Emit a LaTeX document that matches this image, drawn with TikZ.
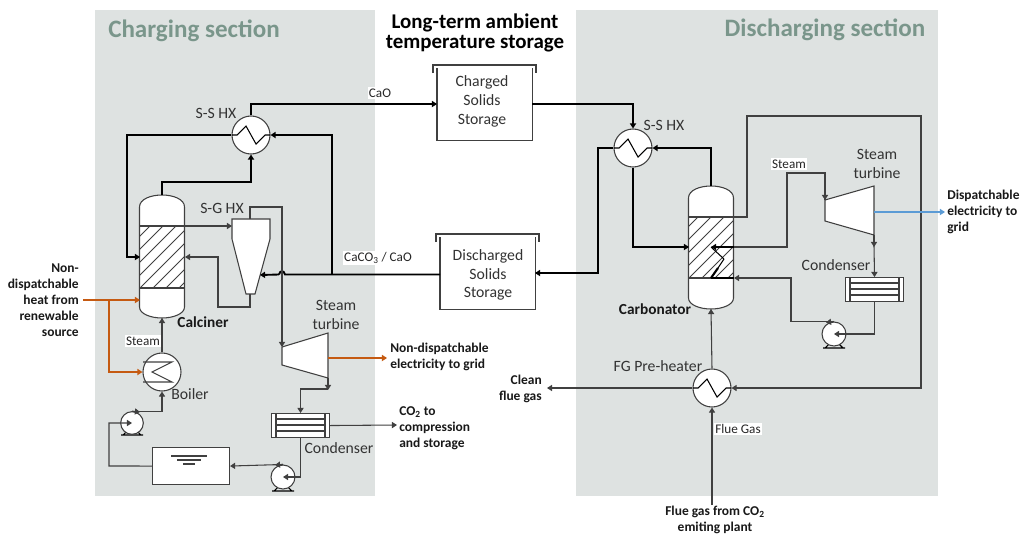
\documentclass[tikz,border=0pt]{standalone}
\usepackage{fontspec}
\setmainfont{Carlito}
\usetikzlibrary{arrows.meta}
\definecolor{panel}{HTML}{DEE2E1}
\definecolor{sect}{HTML}{7A968B}
\definecolor{ln}{HTML}{404040}
\definecolor{heat}{HTML}{C55A11}
\definecolor{elec}{HTML}{5B9BD5}
\tikzset{
  x=0.75pt,y=-0.75pt,
  tip/.style={-{Triangle[length=3.8pt,width=4.6pt]}},
  thin line/.style={draw=ln,line width=0.8pt},
  thick line/.style={draw=black,line width=1.4pt},
  heat line/.style={draw=heat,line width=1.6pt},
  elec line/.style={draw=elec,line width=2pt},
  equip/.style={draw=ln,line width=0.8pt,fill=white},
  hxc/.style={circle,equip,inner sep=0pt,minimum size=28.5pt},
  pumpc/.style={circle,equip,inner sep=0pt,minimum size=17pt},
  lbl/.style={inner sep=0pt,font=\fontsize{11.8pt}{14pt}\selectfont,text=black!80,align=center},
  small lbl/.style={inner sep=1pt,fill=white,font=\fontsize{9.9pt}{11pt}\selectfont,text=black!85},
  bold lbl/.style={inner sep=0pt,font=\fontsize{10.1pt}{12pt}\selectfont\bfseries,text=black!90},
  big bold/.style={inner sep=0pt,font=\fontsize{11.5pt}{12pt}\selectfont\bfseries,text=black!90},
  title lbl/.style={inner sep=0pt,font=\fontsize{15.7pt}{14.5pt}\selectfont\bfseries,align=center},
  sect lbl/.style={inner sep=0pt,font=\fontsize{18.8pt}{20pt}\selectfont\bfseries,text=sect},
}
% vessel: name, x-centre, y top, y hatch top, y hatch bottom, y bottom
\newcommand{\vesselshape}[6]{%
  \filldraw[equip] ({#2-22.5},{#3+12}) .. controls ({#2-22.5},{#3+4}) and ({#2-11},#3) .. (#2,#3)
    .. controls ({#2+11},#3) and ({#2+22.5},{#3+4}) .. ({#2+22.5},{#3+12})
    -- ({#2+22.5},{#6-11}) .. controls ({#2+22.5},{#6-4}) and ({#2+11},#6) .. (#2,#6)
    .. controls ({#2-11},#6) and ({#2-22.5},{#6-4}) .. ({#2-22.5},{#6-11}) -- cycle;
  \begin{scope}
    \clip ({#2-22.5},#4) rectangle ({#2+22.5},#5);
    \foreach \k in {-78,-65,...,78}
      \draw[draw=ln,line width=0.7pt] ({#2+\k-40},{#5+5}) -- ({#2+\k+40},{#5-75});
  \end{scope}
  \draw[draw=ln,line width=0.8pt] ({#2-22.5},#4) rectangle ({#2+22.5},#5);
  \coordinate (#1-top) at (#2,#3);
  \coordinate (#1-bot) at (#2,#6);
}
% heat exchanger zigzag inside a circle node
\newcommand{\hxcoil}[3]{%
  \draw[draw=black,line width=0.8pt] ({#2-19},#3) -- ({#2-14},#3) -- ({#2-5},{#3-9}) -- ({#2+5},{#3+9}) -- ({#2+14},#3) -- ({#2+19},#3);
}
\newcommand{\pumpbase}[3]{%
  \draw[draw=black,line width=0.8pt] ({#1-11},{#2+#3}) -- ({#1+11},{#2+#3})
    ({#1-9},{#2+#3}) -- ({#1-5},{#2+#3-4}) ({#1+9},{#2+#3}) -- ({#1+5},{#2+#3-4});
}
% condenser: name, left, top
\newcommand{\condenser}[3]{%
  \node[draw=ln,line width=0.8pt,fill=white,inner sep=0pt,minimum width=43.5pt,minimum height=18pt,anchor=north west] (#1) at (#2,#3) {};
  \draw[draw=ln,line width=0.8pt] ({#2+5},#3) -- ({#2+5},{#3+24}) ({#2+54},#3) -- ({#2+54},{#3+24})
    ({#2+5},{#3+6}) -- ({#2+54},{#3+6}) ({#2+5},{#3+12}) -- ({#2+54},{#3+12}) ({#2+5},{#3+18}) -- ({#2+54},{#3+18});
}
\newcommand{\turbine}[6]{%
  \filldraw[equip] (#2,#3) -- (#5,#6) -- (#5,\tbr) -- (#2,#4) -- cycle;
  \coordinate (#1-in) at (#2,#3);
  \coordinate (#1-out) at (#5,\tbr);
}
\begin{document}
\begin{tikzpicture}
\useasboundingbox (0,0) rectangle (1021,533);
\fill[white] (0,0) rectangle (1021,533);
\fill[panel] (95,10) rectangle (375,496);
\fill[panel] (576,10) rectangle (938,496);

% ---------- equipment
\vesselshape{calc}{162}{195}{226}{288}{318}
\vesselshape{carb}{711}{186}{217}{278}{309}
\node[hxc] (ssL) at (251,135) {}; \hxcoil{ssL}{251}{135}
\node[hxc] (ssR) at (633,148) {}; \hxcoil{ssR}{633}{148}
\node[hxc] (fg) at (712,388) {}; \hxcoil{fg}{712}{388}
\node[hxc] (boil) at (162,372) {};
\draw[draw=ln,line width=0.8pt] (143,362) -- (172,362) -- (152,372) -- (172,382) -- (143,382);
% cyclone
\filldraw[equip] (232,219) -- (270,219) -- (270,239) -- (255,294) -- (246,294) -- (232,239) -- cycle;
\coordinate (cycl-in) at (232,226);
\coordinate (cycl-top) at (250,219);
\coordinate (cycl-bot) at (250,294);
\coordinate (cycl-side) at (260,275);
% turbines
\def\tbr{378}\turbine{tL}{282}{347}{365}{328}{333}
\def\tbr{235}\turbine{tR}{825}{200}{221}{874}{186}
% pumps
\pumpbase{132}{423}{12}\node[pumpc] (p1) at (132,423) {};
\pumpbase{283}{477}{14}\node[pumpc,minimum size=18pt] (p2) at (283,477) {};
\pumpbase{834}{334}{14}\node[pumpc,minimum size=18pt] (p3) at (834,334) {};
% tank
\node[draw=ln,line width=0.8pt,fill=white,inner sep=0pt,minimum width=57.75pt,minimum height=27.75pt,anchor=north west] (tank) at (152,447) {};
\draw[draw=ln,line width=0.8pt] (171,456) -- (207,456) (177,460) -- (201,460) (183,464) -- (195,464);
% condensers
\condenser{cL}{271}{413}
\condenser{cR}{845}{277}
% storages
\node[inner sep=0pt,minimum width=71.25pt,minimum height=54pt,anchor=north west,lbl] (chg) at (437,68) {};
\draw[draw=ln,line width=1pt] (chg.north west) -- (chg.south west) -- (chg.south east) -- (chg.north east);
\draw[draw=ln,line width=1pt] (433,73) -- (433,65) -- (536,65) -- (536,73);
\node[inner sep=0pt,minimum width=71.25pt,minimum height=54pt,anchor=north west,lbl] (dis) at (440,237) {};
\draw[draw=ln,line width=1pt] (dis.north west) -- (dis.south west) -- (dis.south east) -- (dis.north east);
\draw[draw=ln,line width=1pt] (436,242) -- (436,234) -- (539,234) -- (539,242);

% ---------- junction coordinates
\coordinate (calc-hiL) at (140,257);
\coordinate (calc-hiR) at (185,257);
\coordinate (calc-hatchR) at (185,226);
\coordinate (carb-hL) at (689,247);
\coordinate (carb-hR) at (734,217);
\coordinate (coil-in) at (734,247);
\coordinate (coil-a) at (711,247);
\coordinate (coil-b) at (724,259);
\coordinate (coil-c) at (711,278);
\coordinate (coil-out) at (734,278);
\coordinate (bump-r) at (285,274.5);
\coordinate (bump-l) at (279,274.5);
\coordinate (chg-in) at (437,104);
\coordinate (chg-out) at (532,104);
\coordinate (dis-in) at (535,273);
\coordinate (dis-out) at (440,274.5);

% ---------- thick solids lines
\draw[thick line,tip] (ssL.north) |- (chg-in);
\draw[thick line,tip] (chg-out) -| (ssR.north);
\draw[thick line,tip] (ssL.west) -- (127,135) |- (calc-hiL);
\draw[thick line,tip] (calc-top) |- (251,182) -- (ssL.south);
\draw[thick line,tip] (332,274.5) |- (ssL.east);
\draw[thick line] (dis-out) -- (bump-r) .. controls (284,270) and (280,270) .. (bump-l);
\draw[thick line,tip] (bump-l) -- (cycl-side);
\draw[thick line,tip] (ssR.west) -- (598,148) |- (dis-in);
\draw[thick line,tip] (ssR.south) |- (carb-hL);
\draw[thick line,tip] (carb-top) |- (ssR.east);

% ---------- thin process lines
\draw[thin line,tip] (calc-hatchR) -- (cycl-in);
\draw[thin line,tip] (cycl-bot) |- (218,307) |- (calc-hiR);
\draw[thin line,tip] (cycl-top) |- (282,207) -- (tL-in);
\draw[thin line,tip] (boil.north) -- (calc-bot);
\draw[thin line,tip] (p1.north) -| (boil.south);
\draw[thin line,tip] (p1.north) -- (140,412);
\draw[thin line,tip] (tank.west) -- (109,466) |- (p1.center);
\draw[thin line,tip] (p2.north) -- (tank.east);
\draw[thin line,tip] (p2.north) -- (275,465);
\draw[thin line,tip] (cL.south) |- (p2.center);
\draw[thin line,tip] (tL-out) -- (328,390);
\draw[thin line,tip] (328,389) -| (cL.north);
\coordinate (co2) at (397,425);
\draw[thin line,tip] (cL.east) -- (co2);
\draw[thin line,tip] (carb-hR) -- (747,217) |- (921,116) |- (fg.east);
\draw[thin line,tip] (fg.north) -- (carb-bot);
\coordinate (clean) at (547,388);
\draw[thin line,tip] (fg.west) -- (clean);
\coordinate (fluein) at (712,505);
\draw[thin line,tip] (fluein) -- (fg.south);
\draw[thin line] (coil-in) -- (787,247) |- (825,173) -- (tR-in);
\draw[thin line,tip] (825,173) -- (tR-in);
\draw[thin line,tip] (tR-out) -- (874,247);
\draw[thin line,tip] (874,246) -- (cR.north);
\draw[thin line,tip] (cR.south) |- (p3.center);
\draw[thin line,tip] (p3.north) -| (791,278) -- (coil-out);
\draw[thin line,tip] (p3.north) -- (826,322.5);
% carbonator coil
\draw[draw=black,line width=1.6pt,tip] (coil-in) -- (coil-a);
\draw[draw=black,line width=0.8pt] (coil-a) -- (coil-b);
\draw[draw=black,line width=0.8pt] (coil-b) -- (718,268);
\draw[draw=black,line width=1.6pt] (718,268) -- (coil-c);
\draw[draw=black,line width=0.8pt] (coil-c) -- (coil-out);

% ---------- energy lines
\coordinate (heatin) at (83,300);
\coordinate (heatbr) at (109,300);
\draw[heat line,tip] (heatin) -- (140,300);
\draw[heat line,tip] (heatbr) |- (boil.west);
\coordinate (eL-from) at (328,358);
\coordinate (eL-to) at (387,358);
\draw[heat line,tip] (eL-from) -- (eL-to);
\coordinate (eR-from) at (874,212);
\coordinate (eR-to) at (945,212);
\draw[elec line,tip] (eR-from) -- (eR-to);

% ---------- labels
\node[sect lbl] (tCharge) at (194,31) {Charging section};
\node[sect lbl] (tDis) at (825,30) {Discharging section};
\node[title lbl] (tMid) at (475,33) {Long-term ambient\\temperature storage};
\node[lbl] (lchg) at (482,101.5) {Charged\\Solids\\Storage};
\node[lbl] (ldis) at (488,275) {Discharged\\Solids\\Storage};
\node[small lbl] (lcao) at (380,93) {CaO};
\node[small lbl] (lcac) at (378,258) {CaCO\textsubscript{3} / CaO};
\node[lbl] (l1) at (216,113) {S-S HX};
\node[lbl] (l2) at (222,208) {S-G HX};
\node[big bold] (l3) at (203,322) {Calciner};
\node[small lbl] (l4) at (143,341) {Steam};
\node[lbl] (l5) at (190,394) {Boiler};
\node[lbl] (l6) at (336,315) {Steam\\turbine};
\node[lbl] (l7) at (339,448) {Condenser};
\node[lbl] (r1) at (664,125) {S-S HX};
\node[small lbl] (r2) at (789,164) {Steam};
\node[lbl] (r3) at (877,164) {Steam\\turbine};
\node[lbl] (r4) at (836,265) {Condenser};
\node[big bold] (r5) at (655,309) {Carbonator};
\node[lbl] (r6) at (658,366) {FG Pre-heater};
\node[small lbl] (r7) at (738,429) {Flue Gas};
\node[bold lbl,align=right,anchor=east] (e1) at (79,300) {Non-\\dispatchable\\heat from\\renewable\\source};
\node[bold lbl,align=left,anchor=west] (e2) at (390,357) {Non-dispatchable\\electricity to grid};
\node[bold lbl,align=left,anchor=west] (e3) at (399,428) {CO\textsubscript{2} to\\compression\\and storage};
\node[bold lbl,align=right,anchor=east] (e4) at (542,389) {Clean\\flue gas};
\node[bold lbl,align=left,anchor=west] (e5) at (947,211.5) {Dispatchable\\electricity to\\grid};
\node[bold lbl,align=center] (e6) at (715,520) {Flue gas from CO\textsubscript{2}\\emiting plant};
\end{tikzpicture}
\end{document}
